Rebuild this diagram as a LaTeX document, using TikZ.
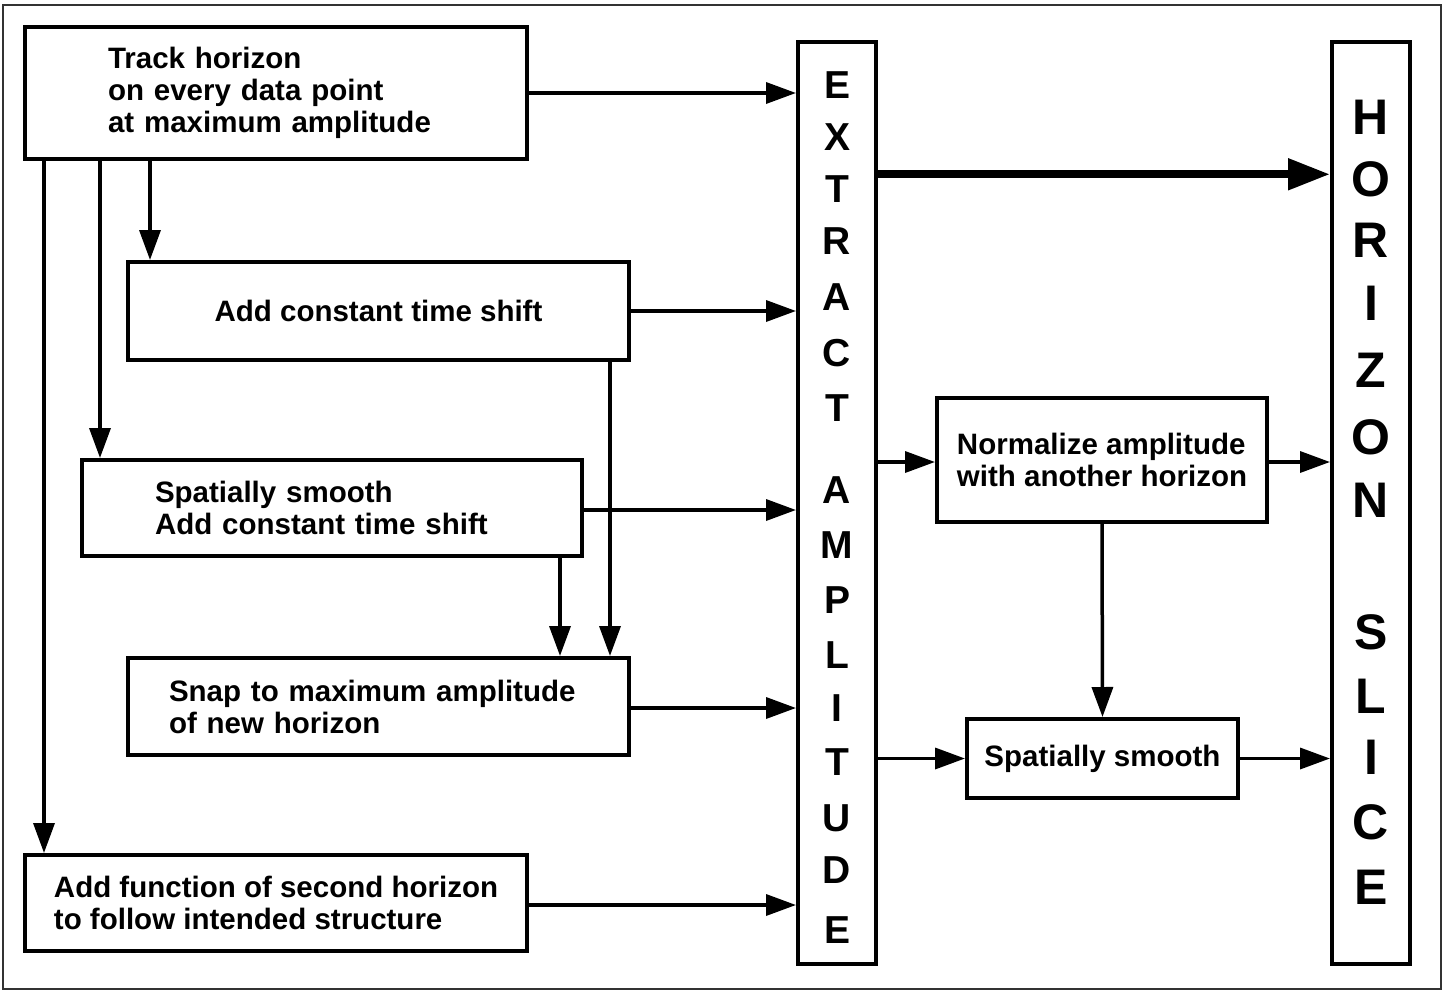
\documentclass[tikz,border=0pt]{standalone}
\usepackage{fontspec}
\setmainfont{Liberation Sans}
\usetikzlibrary{arrows.meta,calc}
\begin{document}
\begin{tikzpicture}[x=1pt,y=-1pt,
  box/.style={draw, line width=4pt, inner ysep=0pt, font=\bfseries\fontsize{29.5}{32}\selectfont},
  tall/.style={draw, line width=4pt, minimum width=78pt, minimum height=922pt, inner sep=0pt},
  bigA/.style={font=\bfseries\fontsize{39}{39}\selectfont, inner sep=0pt},
  bigB/.style={font=\bfseries\fontsize{50}{50}\selectfont, inner sep=0pt},
  conn/.style={line width=3.5pt, -{Triangle[length=30pt,width=21pt]}},
  thick conn/.style={line width=8pt, -{Triangle[length=42pt,width=30pt]}},
  frame/.style={draw=black!80, line width=2pt}]
\useasboundingbox (0,0) rectangle (1448,990);
\draw[frame] (3,5) rectangle (1441,989);

% left column boxes
\node[box, minimum width=502pt, minimum height=132pt, text width=336pt, inner xsep=83pt, align=left] (track) at (276,93)
  {\mbox{Track horizon}\\\mbox{on every data point}\\\mbox{at maximum amplitude}};
\node[box, minimum width=501pt, minimum height=98pt, align=center] (addc) at (378.5,311) {Add constant time shift};
\node[box, minimum width=500pt, minimum height=96pt, text width=354pt, inner xsep=73pt, align=left] (spat) at (332,508)
  {\mbox{Spatially smooth}\\\mbox{Add constant time shift}};
\node[box, minimum width=501pt, minimum height=97pt, text width=419pt, inner xsep=41pt, align=left] (snap) at (378.5,706.5)
  {\mbox{Snap to maximum amplitude}\\\mbox{of new horizon}};
\node[box, minimum width=502pt, minimum height=96pt, align=left] (addf) at (276,903)
  {Add function of second horizon\\to follow intended structure};

% tall boxes
\node[tall] (extract) at (837,503) {};
\node[tall] (hslice) at (1371,503) {};
\foreach \l/\y [count=\i] in {E/85,X/137,T/189,R/241,A/297,C/353,T/408,A/490,M/545,P/600,L/655,I/708,T/762,U/818,D/870,E/930}
  \node[bigA] (ea\i) at (837,\y) {\l};
\foreach \l/\y [count=\i] in {H/117,O/179,R/240,I/303,Z/370,O/437,N/500,S/632,L/696,I/757,C/822,E/887}
  \node[bigB] (hs\i) at (1371,\y) {\l};

% right boxes
\node[box, minimum width=330pt, minimum height=124pt, align=left] (norm) at (1102,460)
  {Normalize amplitude\\with another horizon};
\node[box, minimum width=271pt, minimum height=79pt, align=center] (smr) at (1102.5,758.5) {Spatially smooth};

% connectors to EXTRACT
\draw[conn] (track.east) -- (track.east -| extract.west);
\draw[conn] (addc.east) -- (addc.east -| extract.west);
\draw[conn] ([yshift=-2pt]spat.east) -- ([yshift=-2pt]spat.east -| extract.west);
\draw[conn] ([yshift=-1.5pt]snap.east) -- ([yshift=-1.5pt]snap.east -| extract.west);
\draw[conn] ([yshift=-2pt]addf.east) -- ([yshift=-2pt]addf.east -| extract.west);

% downward connectors
\draw[conn] ([xshift=21pt]track.south west) -- ([xshift=21pt]track.south west |- addf.north);
\draw[conn] ([xshift=77pt]track.south west) -- ([xshift=77pt]track.south west |- spat.north);
\draw[conn] ([xshift=127pt]track.south west) -- ([xshift=127pt]track.south west |- addc.north);
\draw[conn] ([xshift=-21pt]addc.south east) -- ([xshift=-21pt]addc.south east |- snap.north);
\draw[conn] ([xshift=-24pt]spat.south east) -- ([xshift=-24pt]spat.south east |- snap.north);

% right side
\coordinate (thk) at ($(extract.north east)!0.145!(extract.south east)$);
\draw[thick conn] (thk) -- (thk -| hslice.west);
\draw[conn] ([yshift=-2pt]norm.west -| extract.east) -- ([yshift=-2pt]norm.west);
\draw[conn] ([yshift=-2pt]norm.east) -- ([yshift=-2pt]norm.east -| hslice.west);
\draw[conn] (smr.west -| extract.east) -- (smr.west);
\draw[conn] (smr.east) -- (smr.east -| hslice.west);
\draw[conn] (norm.south) -- (smr.north);
\end{tikzpicture}
\end{document}
